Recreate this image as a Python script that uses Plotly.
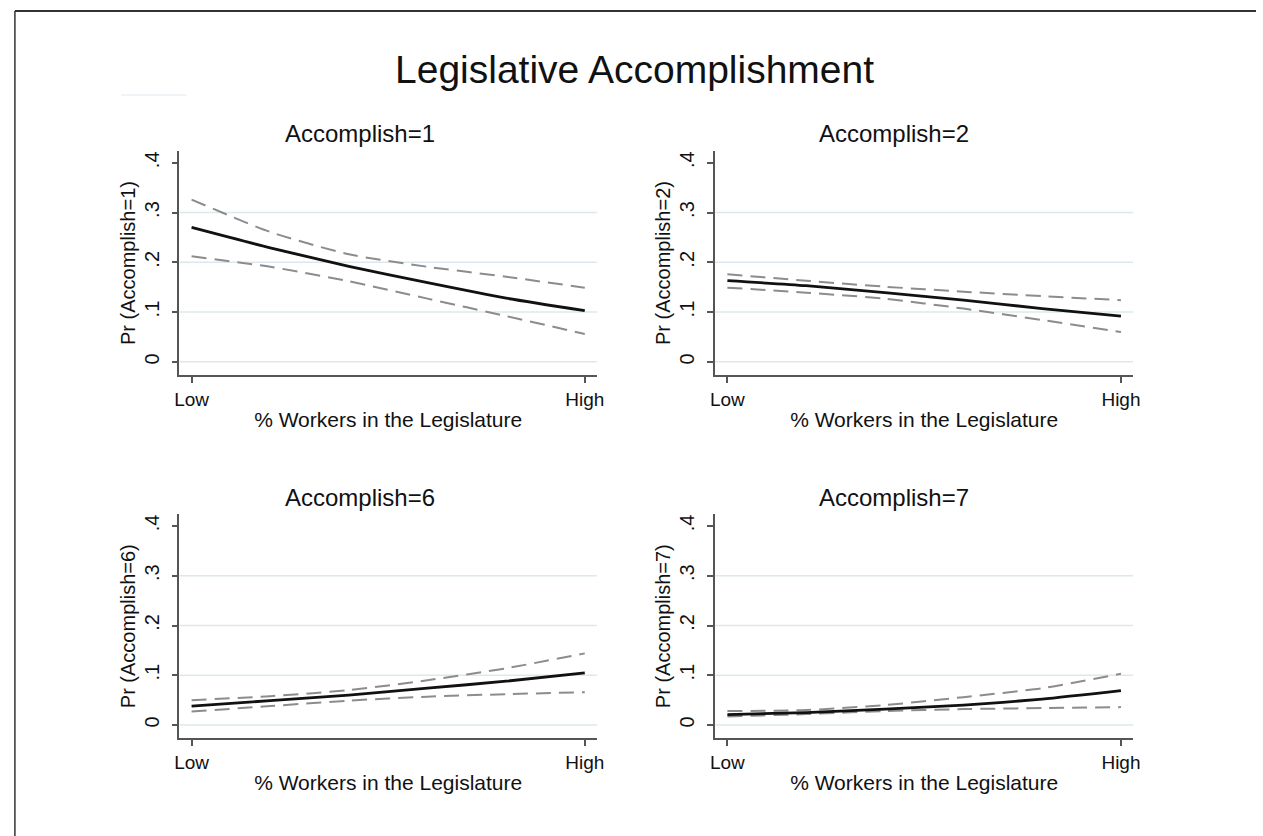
import plotly.graph_objs as go
from plotly.subplots import make_subplots

# points along % workers (Low -> High)
x_levels = [0, 0.2, 0.4, 0.6, 0.8, 1.0]
x_range = [-0.031, 1.031]
x_tick_vals = [0, 1]
x_tick_text = ["Low", "High"]
y_tick_vals = [0, 0.1, 0.2, 0.3, 0.4]
y_tick_text = ["0", ".1", ".2", ".3", ".4"]
grid_vals = [0, 0.1, 0.2, 0.3]

categories = [1, 2, 6, 7]

# predicted probability and 95% bounds for each category
pr_1 = [0.270, 0.229, 0.192, 0.159, 0.128, 0.103]
hi_1 = [0.326, 0.261, 0.216, 0.191, 0.171, 0.149]
lo_1 = [0.212, 0.191, 0.162, 0.127, 0.092, 0.056]

pr_2 = [0.163, 0.153, 0.139, 0.124, 0.107, 0.092]
hi_2 = [0.176, 0.163, 0.151, 0.141, 0.132, 0.124]
lo_2 = [0.149, 0.139, 0.127, 0.107, 0.084, 0.060]

pr_6 = [0.038, 0.049, 0.060, 0.074, 0.088, 0.105]
hi_6 = [0.050, 0.058, 0.070, 0.090, 0.114, 0.144]
lo_6 = [0.027, 0.038, 0.049, 0.057, 0.062, 0.066]

pr_7 = [0.021, 0.025, 0.032, 0.040, 0.052, 0.069]
hi_7 = [0.028, 0.030, 0.040, 0.056, 0.074, 0.103]
lo_7 = [0.017, 0.022, 0.028, 0.032, 0.034, 0.036]

series = [(pr_1, hi_1, lo_1), (pr_2, hi_2, lo_2), (pr_6, hi_6, lo_6), (pr_7, hi_7, lo_7)]
cells = [(1, 1), (1, 2), (2, 1), (2, 2)]

font_fam = "Liberation Sans, Arial, sans-serif"
axis_col = "#555555"
grid_col = "#dde8ed"

fig = make_subplots(rows=2, cols=2)

for cat, (pr, hi, lo), (r, c) in zip(categories, series, cells):
    # light horizontal grid (none at .4, as in Stata's s2color scheme)
    for g in grid_vals:
        fig.add_trace(
            go.Scatter(
                x=x_range, y=[g, g], mode="lines",
                line=dict(color=grid_col, width=1.5),
                hoverinfo="skip", showlegend=False,
            ),
            row=r, col=c,
        )
    for bound in (hi, lo):
        fig.add_trace(
            go.Scatter(
                x=x_levels, y=bound, mode="lines",
                line=dict(color="#8c8c8c", width=2, dash="15px,8px", shape="spline", smoothing=0.6),
                showlegend=False,
            ),
            row=r, col=c,
        )
    fig.add_trace(
        go.Scatter(
            x=x_levels, y=pr, mode="lines",
            line=dict(color="#111111", width=2.8, shape="spline", smoothing=0.6),
            showlegend=False,
        ),
        row=r, col=c,
    )
    fig.update_xaxes(
        row=r, col=c,
        range=x_range,
        tickvals=x_tick_vals, ticktext=x_tick_text,
        showgrid=False, zeroline=False,
        showline=True, linecolor=axis_col, linewidth=1.5,
        ticks="outside", ticklen=6, tickwidth=1.5, tickcolor=axis_col,
        tickfont=dict(size=19, color="#111"),
        title=dict(text="% Workers in the Legislature", font=dict(size=21, color="#111"), standoff=4),
    )
    fig.update_yaxes(
        row=r, col=c,
        range=[-0.0265, 0.4237],
        tickvals=y_tick_vals, ticktext=y_tick_text, tickangle=-90,
        showgrid=False, zeroline=False,
        showline=True, linecolor=axis_col, linewidth=1.5,
        ticks="outside", ticklen=6, tickwidth=1.5, tickcolor=axis_col,
        ticklabelstandoff=5,
        tickfont=dict(size=20, color="#111"),
        title=dict(text="Pr (Accomplish=%d)" % cat, font=dict(size=20, color="#111"), standoff=0),
    )

# panel placement
left_dom = [0.1394, 0.4732]
right_dom = [0.5677, 0.9018]
top_dom = [0.5514, 0.8194]
bot_dom = [0.1170, 0.3849]
fig.update_layout(
    xaxis=dict(domain=left_dom), yaxis=dict(domain=top_dom),
    xaxis2=dict(domain=right_dom), yaxis2=dict(domain=top_dom),
    xaxis3=dict(domain=left_dom), yaxis3=dict(domain=bot_dom),
    xaxis4=dict(domain=right_dom), yaxis4=dict(domain=bot_dom),
)

# titles
fig.add_annotation(
    text="Legislative Accomplishment", x=0.5035, y=0.9163, xref="paper", yref="paper",
    showarrow=False, font=dict(size=39, color="#111"), xanchor="center", yanchor="middle",
)
title_pos = [(0.2835, 0.8409), (0.711, 0.8409), (0.2835, 0.4055), (0.711, 0.4055)]
for cat, (tx, ty) in zip(categories, title_pos):
    fig.add_annotation(
        text="Accomplish=%d" % cat, x=tx, y=ty, xref="paper", yref="paper",
        showarrow=False, font=dict(size=24, color="#111"), xanchor="center", yanchor="middle",
    )

# frame and stray legend key remnant
fig.add_shape(type="line", xref="paper", yref="paper", x0=10 / 1263, x1=1.0, y0=1 - 11 / 836, y1=1 - 11 / 836,
              line=dict(color="#333", width=2))
fig.add_shape(type="line", xref="paper", yref="paper", x0=10 / 1263, x1=10 / 1263, y0=0, y1=1 - 11 / 836,
              line=dict(color="#333", width=1.5))
fig.add_shape(type="line", xref="paper", yref="paper", x0=117 / 1263, x1=183 / 1263, y0=1 - 95 / 836, y1=1 - 95 / 836,
              line=dict(color="#eef4f7", width=2))

fig.update_layout(
    width=1263, height=836,
    margin=dict(l=0, r=0, t=0, b=0),
    paper_bgcolor="white", plot_bgcolor="white",
    font=dict(family=font_fam, color="#111"),
    showlegend=False,
)

fig.write_html(
    "out.html",
    config={"responsive": False, "displayModeBar": False},
    post_script="document.body.style.margin='0';document.body.style.overflow='hidden';",
)
